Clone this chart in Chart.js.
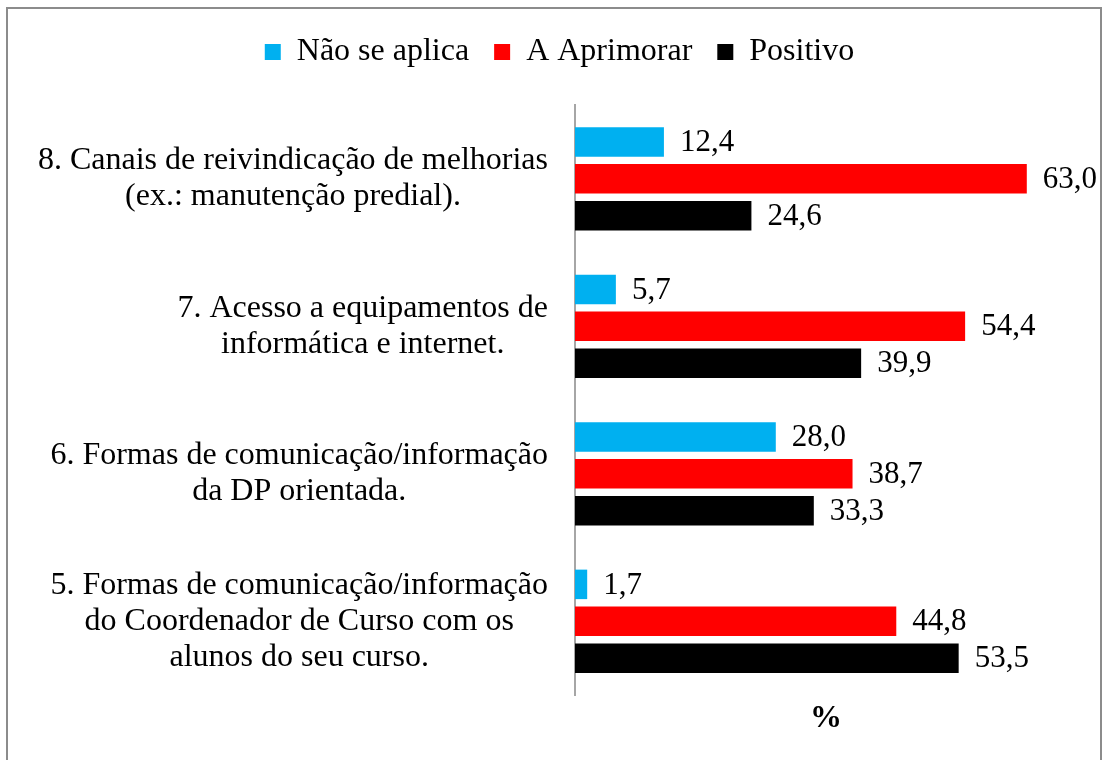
<!DOCTYPE html>
<html>
<head>
<meta charset="utf-8">
<script src="https://cdn.jsdelivr.net/npm/chart.js@4.4.1/dist/chart.umd.min.js"></script>
<style>
  html, body { margin: 0; padding: 0; background: #fff; }
  #wrap { position: relative; width: 1106px; height: 760px; }
  #frame { position: absolute; left: 6px; top: 7px; width: 1096px; height: 760px;
           border: 2px solid #8c8c8c; border-bottom: none; box-sizing: border-box; }
  canvas { position: absolute; left: 0; top: 0; }
</style>
</head>
<body>
<div id="wrap">
  <div id="frame"></div>
  <canvas id="chart" width="1106" height="760"></canvas>
</div>
<script>
const categories = [
  ['8. Canais de reivindicação de melhorias', '(ex.: manutenção predial).'],
  ['7. Acesso a equipamentos de', 'informática e internet.'],
  ['6. Formas de comunicação/informação', 'da DP orientada.'],
  ['5. Formas de comunicação/informação', 'do Coordenador de Curso com os', 'alunos do seu curso.']
];
const naoSeAplica = [12.4, 5.7, 28.0, 1.7];
const aAprimorar = [63.0, 54.4, 38.7, 44.8];
const positivo = [24.6, 39.9, 33.3, 53.5];
const seriesNames = ['Não se aplica', 'A Aprimorar', 'Positivo'];

const FONT = 'Liberation Serif, Times New Roman, serif';
const labelSize = 32;
const valueSize = 31;

// wrapped category labels: block right-aligned, lines centred (like Excel)
const catLabels = {
  id: 'catLabels',
  afterDraw(chart) {
    const ctx = chart.ctx;
    const y = chart.scales.y;
    const right = 548, lh = 36;
    ctx.save();
    ctx.font = labelSize + 'px ' + FONT;
    ctx.fillStyle = '#000';
    ctx.textAlign = 'center';
    ctx.textBaseline = 'middle';
    categories.forEach(function(lines, i) {
      const w = Math.max.apply(null, lines.map(l => ctx.measureText(l).width));
      const cx = right - w / 2;
      const cy = y.getPixelForValue(i);
      lines.forEach(function(l, j) {
        ctx.fillText(l, cx, cy + (j - (lines.length - 1) / 2) * lh);
      });
    });
    ctx.restore();
  }
};

const valueLabels = {
  id: 'valueLabels',
  afterDatasetsDraw(chart) {
    const ctx = chart.ctx;
    ctx.save();
    ctx.font = valueSize + 'px ' + FONT;
    ctx.fillStyle = '#000';
    ctx.textAlign = 'left';
    ctx.textBaseline = 'middle';
    chart.data.datasets.forEach(function(ds, di) {
      chart.getDatasetMeta(di).data.forEach(function(bar, i) {
        ctx.fillText(ds.data[i].toFixed(1).replace('.', ','), bar.x + 16, bar.y + 1);
      });
    });
    ctx.restore();
  }
};

// fixed legend height, legend nudged to sit centred over the whole picture
const legendFix = {
  id: 'legendFix',
  beforeInit(chart) {
    const lg = chart.legend;
    const fit = lg.fit;
    lg.fit = function() {
      fit.bind(lg)();
      this.height = 98;
    };
    const draw = lg.draw;
    lg.draw = function() {
      chart.ctx.save();
      chart.ctx.translate(21, 4);
      draw.apply(lg, arguments);
      chart.ctx.restore();
    };
  }
};

new Chart(document.getElementById('chart'), {
  type: 'bar',
  data: {
    labels: categories.map(c => c.join(' ')),
    datasets: [
      { label: seriesNames[0], data: naoSeAplica, backgroundColor: '#00B0F0' },
      { label: seriesNames[1], data: aAprimorar, backgroundColor: '#FF0000' },
      { label: seriesNames[2], data: positivo, backgroundColor: '#000000' }
    ]
  },
  options: {
    indexAxis: 'y',
    responsive: false,
    animation: false,
    layout: { padding: { left: 0, right: 29, top: 7, bottom: 0 } },
    datasets: { bar: { categoryPercentage: 0.75, barPercentage: 0.8 } },
    scales: {
      x: {
        min: 0, max: 70,
        grid: { display: false },
        border: { display: false },
        ticks: { display: false },
        title: { display: true, text: '%', color: '#000',
                 font: { family: FONT, size: 32, weight: 'bold' }, padding: { top: 0, bottom: 22 } },
        afterFit(s) { s.height = 65; }
      },
      y: {
        grid: { display: false },
        border: { display: true, color: '#a6a6a6', width: 2 },
        ticks: { display: false },
        afterFit(s) { s.width = 575; }
      }
    },
    plugins: {
      tooltip: { enabled: false },
      legend: {
        position: 'top',
        labels: {
          color: '#000',
          font: { family: FONT, size: labelSize },
          boxWidth: 16, boxHeight: 16,
          padding: 25
        }
      }
    }
  },
  plugins: [legendFix, valueLabels, catLabels]
});
</script>
</body>
</html>
